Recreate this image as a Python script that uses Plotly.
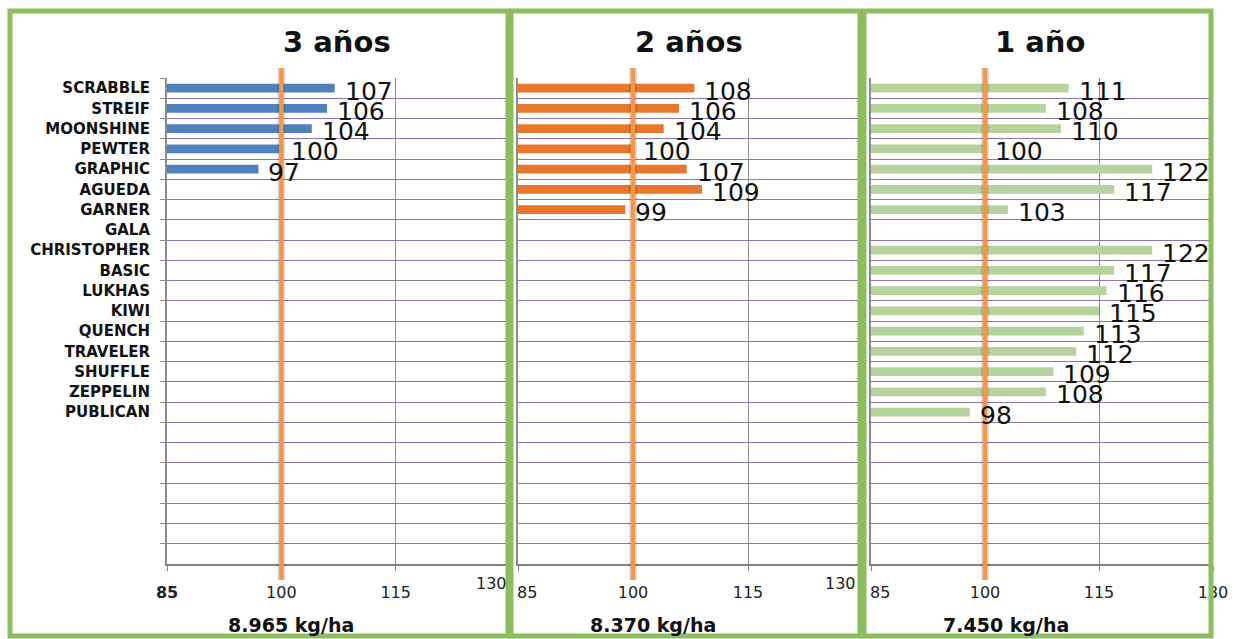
import plotly.graph_objects as go

# ---------------- data ----------------
varieties = ["SCRABBLE", "STREIF", "MOONSHINE", "PEWTER", "GRAPHIC", "AGUEDA",
             "GARNER", "GALA", "CHRISTOPHER", "BASIC", "LUKHAS", "KIWI", "QUENCH",
             "TRAVELER", "SHUFFLE", "ZEPPELIN", "PUBLICAN"]
blank_rows = [" " * (i + 1) for i in range(7)]
categories = varieties + blank_rows

values_3 = [107, 106, 104, 100, 97]
values_2 = [108, 106, 104, 100, 107, 109, 99]
values_1 = [111, 108, 110, 100, 122, 117, 103, None, 122, 117, 116, 115, 113, 112, 109, 108, 98]

panel_titles = ["3 años", "2 años", "1 año"]
panel_yields = ["8.965 kg/ha", "8.370 kg/ha", "7.450 kg/ha"]
x_ticks = [85, 100, 115, 130]
x_range = [85, 130]
reference = 100

colors = ["#4F81BD", "#E8762B", "#B7D39D"]
frame_green = "#8CBD5E"
grid_purple = "#8A76BC"
grid_gray = "#8C8C8C"

W, H = 1247, 639
def px(x):
    return x / W
def py(y):
    return 1 - y / H

def padded(vals):
    return list(vals) + [None] * (len(categories) - len(vals))

series = [padded(values_3), padded(values_2), padded(values_1)]

# ---------------- layout geometry ----------------
x_domains = [[px(167), px(510)], [px(518), px(863)], [px(871), px(1213)]]
y_domain = [py(564), py(78)]
frames = [(10, 508), (511, 860), (864, 1211)]
title_x = [337, 689, 1040]
yield_x = [291, 653, 1006]

fig = go.Figure()
FONT = "DejaVu Sans"
tick_font = dict(family=FONT, size=16, color="#222222")

for i, vals in enumerate(series):
    xa = "x" if i == 0 else f"x{i+1}"
    ya = "y" if i == 0 else f"y{i+1}"
    fig.add_trace(go.Bar(
        x=vals, y=categories, orientation="h",
        marker=dict(color=colors[i], line=dict(width=0)),
        width=0.42, xaxis=xa, yaxis=ya, showlegend=False,
        hoverinfo="skip",
    ))
    # data labels
    for cat, v in zip(categories, vals):
        if v is None:
            continue
        fig.add_annotation(
            x=v, y=cat, xref=xa, yref=ya, text=str(v), showarrow=False,
            xanchor="left", yanchor="middle", xshift=8, yshift=-3,
            font=dict(family=FONT, size=25, color="#111111"),
        )
    # reference line at 100 (shadow + line)
    fig.add_shape(type="line", xref=xa, yref="paper", x0=reference, x1=reference,
                  y0=py(580), y1=py(68), line=dict(color="rgba(0,0,0,0.13)", width=8),
                  layer="above")
    fig.add_shape(type="line", xref=xa, yref="paper", x0=reference, x1=reference,
                  y0=py(580), y1=py(68), line=dict(color="#F79646", width=4.5),
                  layer="above")
    # frames
    fx0, fx1 = frames[i]
    fig.add_shape(type="rect", xref="paper", yref="paper",
                  x0=px(fx0), x1=px(fx1), y0=py(636), y1=py(11),
                  line=dict(color=frame_green, width=5), fillcolor="rgba(0,0,0,0)",
                  layer="above")
    # titles
    fig.add_annotation(x=px(title_x[i]), y=py(42), xref="paper", yref="paper",
                       text=f"<b>{panel_titles[i]}</b>", showarrow=False,
                       xanchor="center", yanchor="middle",
                       font=dict(family=FONT, size=29, color="#111111"))
    fig.add_annotation(x=px(yield_x[i]), y=py(625), xref="paper", yref="paper",
                       text=f"<b>{panel_yields[i]}</b>", showarrow=False,
                       xanchor="center", yanchor="middle",
                       font=dict(family=FONT, size=19, color="#111111"))

    tick_text = [str(t) for t in x_ticks]
    if i == 0:
        tick_text[0] = f"<b>{x_ticks[0]}</b>"
    else:
        # first tick label sits just right of the panel's axis
        tick_text[0] = ""
        fig.add_annotation(x=x_ticks[0], y=py(592), xref=xa, yref="paper",
                           text=str(x_ticks[0]), showarrow=False,
                           xanchor="left", yanchor="middle", xshift=-3,
                           font=tick_font)
    if i < 2:
        # last tick label sits raised and to the left of the panel edge
        tick_text[-1] = ""
        fig.add_annotation(x=x_ticks[-1], y=py(583), xref=xa, yref="paper",
                           text=str(x_ticks[-1]), showarrow=False,
                           xanchor="right", yanchor="middle", xshift=-1 if i == 0 else -5,
                           font=tick_font)
    xaxis = dict(domain=x_domains[i], range=x_range, tickvals=x_ticks, ticktext=tick_text,
                 showgrid=True, gridcolor=grid_gray, gridwidth=1, zeroline=False,
                 showline=True, linecolor="#808080", linewidth=2,
                 ticks="outside", ticklen=5, tickcolor="#808080",
                 tickfont=tick_font, ticklabelstandoff=8, automargin=False,
                 anchor=ya, fixedrange=True)
    yaxis = dict(domain=y_domain, type="category", categoryorder="array",
                 categoryarray=categories, range=[len(categories) - 0.5, -0.5],
                 tickson="boundaries", showgrid=True, gridcolor=grid_purple, gridwidth=1,
                 showline=True, linecolor="#8C8C8C", linewidth=2, zeroline=False,
                 automargin=False, anchor=xa, fixedrange=True)
    if i == 0:
        yaxis.update(ticks="outside", ticklen=5, tickcolor="#8C8C8C",
                     tickfont=dict(family=FONT, size=15, color="#111111", weight="bold"),
                     ticklabelstandoff=12)
    else:
        yaxis.update(ticks="", showticklabels=False, matches="y")
    fig.layout["xaxis" if i == 0 else f"xaxis{i+1}"] = xaxis
    fig.layout["yaxis" if i == 0 else f"yaxis{i+1}"] = yaxis

fig.update_layout(
    width=W, height=H, autosize=False,
    margin=dict(l=0, r=0, t=0, b=0, pad=0),
    paper_bgcolor="white", plot_bgcolor="white",
    bargap=0.5, showlegend=False,
)

fig.write_html(
    "out.html",
    config={"displayModeBar": False, "responsive": False},
    post_script="document.body.style.margin='0px';document.body.style.overflow='hidden';",
)
